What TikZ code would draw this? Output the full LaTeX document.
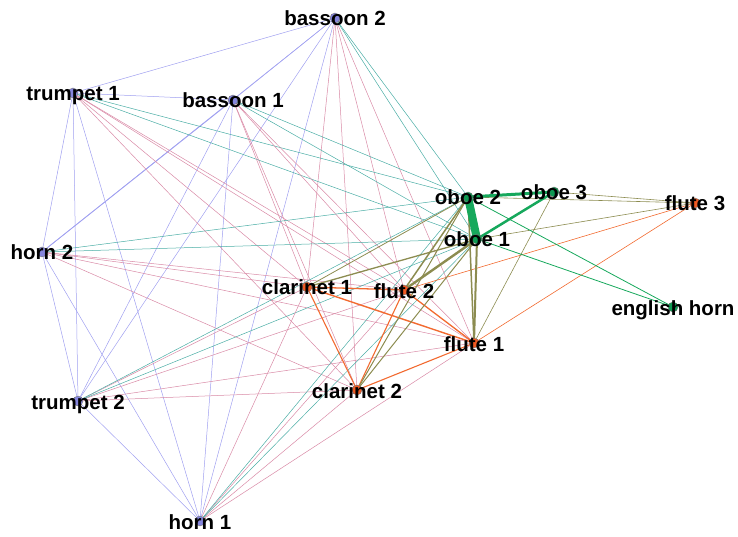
\documentclass[tikz,border=0pt]{standalone}
\usepackage{fontspec}
\setmainfont{Liberation Sans}
\begin{document}
\begin{tikzpicture}[x=1bp,y=-1bp,
  vtx/.style={circle,inner sep=0pt,minimum size=10bp,draw=black!55,line width=0.4bp},
  vb/.style={vtx,fill=vblue},
  vo/.style={vtx,fill=vorange},
  vg/.style={vtx,fill=vgreen},
  lbl/.style={anchor=base,inner sep=0pt,font=\fontsize{20.5bp}{22bp}\selectfont\bfseries,text=black},
  ebb/.style={draw=eblue,line width=0.5bp},
  ebo/.style={draw=epink,line width=0.5bp},
  ebg/.style={draw=eteal,line width=0.5bp},
  eoo/.style={draw=eorange,line width=0.7bp},
  eog/.style={draw=eolive,line width=0.6bp},
  egg/.style={draw=egreen,line width=0.7bp}]
\definecolor{vblue}{HTML}{8585DD}
\definecolor{vorange}{HTML}{F05A22}
\definecolor{vgreen}{HTML}{0E9A52}
\definecolor{eblue}{HTML}{A0A0F0}
\definecolor{epink}{HTML}{D98AA6}
\definecolor{eteal}{HTML}{4AADA5}
\definecolor{eorange}{HTML}{F26A30}
\definecolor{eolive}{HTML}{8C8C50}
\definecolor{egreen}{HTML}{16A85C}
\useasboundingbox (0,0) rectangle (738,537);
% coordinates of vertices
\coordinate (pb2) at (335,18);
\coordinate (pt1) at (73,93);
\coordinate (pb1) at (233,100);
\coordinate (ph2) at (42,252);
\coordinate (pt2) at (78,401);
\coordinate (ph1) at (200,521);
\coordinate (pc1) at (307,287);
\coordinate (pf2) at (404,290);
\coordinate (pf1) at (474,343);
\coordinate (pc2) at (357,390);
\coordinate (po2) at (468,197);
\coordinate (po3) at (554,192);
\coordinate (po1) at (477,239);
\coordinate (pf3) at (695,203);
\coordinate (peh) at (673,307);
% edges
\foreach \a/\b in {b2/t1,b2/b1,b2/h2,b2/t2,b2/h1,t1/b1,t1/h2,t1/t2,t1/h1,b1/t2,b1/h1,h2/t2,h2/h1,t2/h1}
  \draw[ebb] (p\a) -- (p\b);
\draw[ebb,line width=0.8bp] (pb1) -- (ph2);
\foreach \a in {b2,t1,b1,h2,t2,h1}{
  \foreach \b in {c1,f2,f1,c2}
    \draw[ebo] (p\a) -- (p\b);
  \foreach \b in {o2,o1}
    \draw[ebg] (p\a) -- (p\b);
}
\foreach \a/\b/\w in {c1/f2/1.3,c1/f1/1.4,c1/c2/1.1,f2/f1/1.3,f2/c2/1.1,f1/c2/1.1,f3/f2/0.6,f3/f1/0.6}
  \draw[eoo,line width=\w bp] (p\a) -- (p\b);
\foreach \a/\b/\w in {o1/c1/1.3,o1/f2/2.4,o1/f1/2,o1/c2/1,o2/c1/0.8,o2/f2/1.5,o2/f1/1.5,o2/c2/1,o3/f1/0.6,f3/o1/0.6,f3/o2/0.6,f3/o3/0.6}
  \draw[eog,line width=\w bp] (p\a) -- (p\b);
\draw[egg,line width=8bp] (po2) -- (po1);
\draw[egg,line width=3bp] (po2) -- (po3);
\draw[egg,line width=2.5bp] (po3) -- (po1);
\draw[egg,line width=0.8bp] (po2) -- (peh);
\draw[egg,line width=0.8bp] (po1) -- (peh);
% vertices
\foreach \n in {b2,t1,b1,h2,t2,h1} \node[vb] (\n) at (p\n) {};
\foreach \n in {c1,f2,f1,c2,f3} \node[vo] (\n) at (p\n) {};
\foreach \n in {o2,o3,o1,eh} \node[vg] (\n) at (p\n) {};
% labels
\node[lbl] (lb2) at ([yshift=-8bp]b2) {bassoon 2};
\node[lbl] (lt1) at ([yshift=-8bp]t1) {trumpet 1};
\node[lbl] (lb1) at ([yshift=-8bp]b1) {bassoon 1};
\node[lbl] (lh2) at ([yshift=-8bp]h2) {horn 2};
\node[lbl] (lt2) at ([yshift=-8bp]t2) {trumpet 2};
\node[lbl] (lh1) at ([yshift=-8bp]h1) {horn 1};
\node[lbl] (lc1) at ([yshift=-8bp]c1) {clarinet 1};
\node[lbl] (lf2) at ([yshift=-8bp]f2) {flute 2};
\node[lbl] (lf1) at ([yshift=-8bp]f1) {flute 1};
\node[lbl] (lc2) at ([yshift=-8bp]c2) {clarinet 2};
\node[lbl] (lo2) at ([yshift=-8bp]o2) {oboe 2};
\node[lbl] (lo3) at ([yshift=-8bp]o3) {oboe 3};
\node[lbl] (lo1) at ([yshift=-8bp]o1) {oboe 1};
\node[lbl] (lf3) at ([yshift=-8bp]f3) {flute 3};
\node[lbl] (leh) at ([yshift=-8bp]eh) {english horn};
\end{tikzpicture}
\end{document}
